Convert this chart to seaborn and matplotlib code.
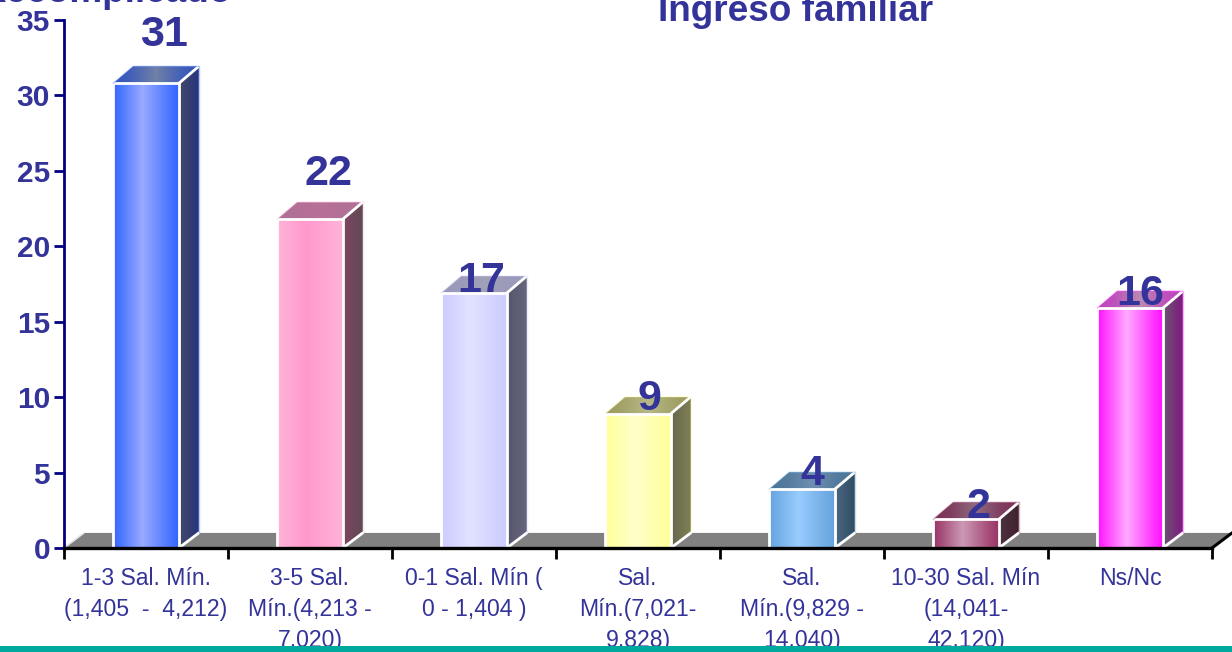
import numpy as np
import pandas as pd
import matplotlib
matplotlib.use("Agg")
import matplotlib.pyplot as plt
from matplotlib.colors import to_rgb
from matplotlib.patches import Polygon, Rectangle
import seaborn as sns

# ---- data ----
categories = ["1-3 Sal. Mín.\n(1,405  -  4,212)",
              "3-5 Sal.\nMín.(4,213 -\n7,020)",
              "0-1 Sal. Mín (\n0 - 1,404 )",
              "Sal.\nMín.(7,021-\n9,828)",
              "Sal.\nMín.(9,829 -\n14,040)",
              "10-30 Sal. Mín\n(14,041-\n42,120)",
              "Ns/Nc"]
values = [30.8, 21.8, 16.9, 8.9, 3.9, 1.9, 15.9]
yticks = [0, 5, 10, 15, 20, 25, 30, 35]

# ---- style ----
TXT = "#333399"
NAVY = "#000080"
front_edge = ["#3366ff", "#ffb3d9", "#ccccff", "#ffff99", "#66a3dd", "#993366", "#ff11ff"]
front_mid = ["#99aaff", "#ff99cc", "#e2e2ff", "#ffffcc", "#99ccff", "#cc99b3", "#ffaaff"]
side_a = ["#454a66", "#804560", "#55556a", "#66664d", "#4d6680", "#4d3340", "#6a5570"]
side_b = ["#25357f", "#5f4a55", "#666680", "#808055", "#2f4d66", "#402030", "#801a80"]
top_edge = ["#3355bb", "#b07095", "#9999bb", "#9c9c60", "#4a7496", "#7a3055", "#c040c0"]
top_mid = ["#7080a8", "#b87098", "#a0a0b8", "#b8b888", "#6f8fb0", "#8f6a7d", "#b88ab0"]
label_dx_px = [17.5, 18.5, 7.5, 11.5, 10.5, 13, 10.5]
label_dy_px = [37, 34, 1, 4, 4, 1, 3]

sns.set_theme(style="white")
plt.rcParams["font.family"] = ["Liberation Sans", "DejaVu Sans"]

W, H = 1232, 652
L, R, B, T = 64, 1212, 548, 20
fig = plt.figure(figsize=(W / 100, H / 100), dpi=100, facecolor="white")
ax = fig.add_axes([L / W, (H - B) / H, (R - L) / W, (B - T) / H])

df = pd.DataFrame({"cat": categories, "val": values})
sns.barplot(data=df, x="cat", y="val", hue="cat", dodge=False, width=0.4,
            palette=front_edge, legend=False, ax=ax, edgecolor="white", linewidth=2, zorder=3)
ax.set_xlim(-0.5, 6.5)
ax.set_ylim(0, 35)

px_x = 7 / (R - L)
px_y = 35 / (B - T)
dx, dy = 20 * px_x, 17 * px_y


def grad(c0, c1, stops=(0, 0.12, 0.45, 0.85, 1)):
    a, b = np.array(to_rgb(c0)), np.array(to_rgb(c1))
    t = np.linspace(0, 1, 128)
    w = np.interp(t, stops, [0, 0.25, 1, 0.25, 0])
    return (a[None, :] * (1 - w[:, None]) + b[None, :] * w[:, None])[None, :, :]


def side_grad(c0, c1):
    a, b = np.array(to_rgb(c0)), np.array(to_rgb(c1))
    t = np.linspace(0, 1, 64)[:, None]
    return (a[None, :] * (1 - t) + b[None, :] * t)[None, :, :]


def fill(img, x0, x1, y0, y1, clip, z):
    im = ax.imshow(img, extent=(x0, x1, y0, y1), aspect="auto", origin="lower",
                   interpolation="bilinear", zorder=z)
    if clip is not None:
        im.set_clip_path(clip)
    return im


# floor
floor = Polygon([(-0.5, 0), (-0.5 + dx, 1.0), (6.5 + dx, 1.0), (6.5, 0)], closed=True,
                facecolor="#808080", edgecolor="none", zorder=1, clip_on=False)
ax.add_patch(floor)
ax.plot([6.5, 6.5 + dx], [0, 1.0], color="black", lw=2.2, zorder=2, clip_on=False)
ax.plot([-0.5, -0.5 + dx], [0, 1.0], color="#e4e4e4", lw=1.2, zorder=2, clip_on=False)

bars = [p for p in ax.patches if isinstance(p, Rectangle)]
bars = sorted(bars, key=lambda p: p.get_x())
for i, p in enumerate(bars):
    x0, x1, h = p.get_x(), p.get_x() + p.get_width(), p.get_height()
    # front face gradient
    p.set_facecolor("none")
    p.set_zorder(6)
    fill(grad(front_edge[i], front_mid[i]), x0, x1, 0, h, None, 3)
    # side face
    side = Polygon([(x1, 0), (x1 + dx, 1.0), (x1 + dx, h + dy), (x1, h)], closed=True,
                   transform=ax.transData, facecolor="none", edgecolor="none")
    ax.add_patch(side)
    fill(side_grad(side_a[i], side_b[i]), x1, x1 + dx, 0, h + dy, side, 4)
    # top face
    top = Polygon([(x0, h), (x0 + dx, h + dy), (x1 + dx, h + dy), (x1, h)], closed=True,
                  transform=ax.transData, facecolor="none", edgecolor="none")
    ax.add_patch(top)
    fill(grad(top_edge[i], top_mid[i], stops=(0, 0.2, 0.5, 0.8, 1)),
         x0 + 0.0, x1 + dx, h, h + dy, top, 4)
    # white outlines
    ax.plot([x1, x1 + dx], [h, h + dy], color="white", lw=2, zorder=7, clip_on=False)
    ax.plot([x1, x1 + dx], [0, 1.0], color="white", lw=2, zorder=7, clip_on=False)
    ax.plot([x0, x0 + dx, x1 + dx], [h, h + dy, h + dy], color=front_edge[i], alpha=0.35, lw=1,
            zorder=7, clip_on=False)
    ax.plot([x1 + dx, x1 + dx], [h + dy, 1.0], color=front_edge[i], alpha=0.35, lw=1,
            zorder=7, clip_on=False)
    # value label
    ax.text(p.get_x() + p.get_width() / 2 + label_dx_px[i] * px_x, h + label_dy_px[i] * px_y,
            f"{h:.0f}", ha="center", va="baseline", color=TXT, fontsize=31,
            fontweight="bold", zorder=9, clip_on=False)

ax.set_xlim(-0.5, 6.5)
ax.set_ylim(0, 35)

# axes
ax.set_xlabel("")
ax.set_ylabel("")
for s in ("top", "right"):
    ax.spines[s].set_visible(False)
ax.spines["left"].set_color(NAVY)
ax.spines["left"].set_linewidth(2)
ax.spines["left"].set_zorder(10)
ax.spines["bottom"].set_color("black")
ax.spines["bottom"].set_linewidth(2.4)
ax.spines["bottom"].set_zorder(10)

ax.set_yticks(yticks)
ax.set_yticklabels([str(v) for v in yticks], fontsize=21.5, fontweight="bold", color=TXT)
ax.tick_params(axis="y", which="major", length=7, width=2, color=NAVY, pad=3, left=True)

ax.set_xticks(np.arange(7))
ax.set_xticklabels(categories, fontsize=16.6, color=TXT, linespacing=1.42)
ax.tick_params(axis="x", which="major", length=0, pad=14, bottom=False)
ax.set_xticks(np.arange(-0.5, 7), minor=True)
ax.tick_params(axis="x", which="minor", length=8, width=2, color="black", bottom=True)

# clipped titles
fig.text(796 / W, 1 - 21 / H, "Ingreso familiar", ha="center", va="baseline",
         color=TXT, fontsize=26.6, fontweight="bold", zorder=12)
fig.text(232 / W, 1 - 2 / H, "Recomplicado", ha="right", va="baseline",
         color=TXT, fontsize=26.6, fontweight="bold", zorder=12)

# bottom band
fig.add_artist(Rectangle((0, 0), 1, 6 / H, transform=fig.transFigure,
                         facecolor="#00A99D", edgecolor="none", zorder=20))

fig.savefig("out.png", dpi=100, facecolor="white")
